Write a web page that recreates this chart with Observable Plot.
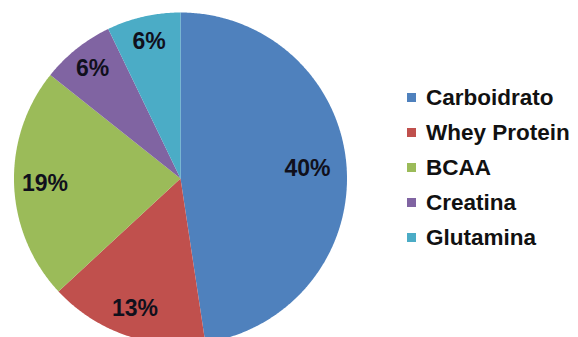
<!DOCTYPE html>
<html>
<head>
<meta charset="utf-8">
<script src="https://cdn.jsdelivr.net/npm/d3@7"></script>
<script src="https://cdn.jsdelivr.net/npm/@observablehq/plot@0.6"></script>
<style>
  html, body { margin: 0; padding: 0; background: #fff; }
  #wrap { position: relative; width: 578px; height: 337px; overflow: hidden; font-family: "Liberation Sans", Arial, sans-serif; }
  #legend { position: absolute; left: 407px; top: 80px; }
  .item { display: flex; align-items: center; height: 35px; font-weight: bold; font-size: 22.5px; color: #111; white-space: nowrap; }
  .sw { width: 9px; height: 9px; margin-right: 10px; flex: none; }
</style>
</head>
<body>
<div id="wrap"><div id="chart"></div><div id="legend"></div></div>
<script>
// Categories (clockwise from 12 o'clock)
const categories = ["Carboidrato", "Whey Protein", "BCAA", "Creatina", "Glutamina"];
// Printed values (percent)
const values = [40, 13, 19, 6, 6];
const labels = ["40%", "13%", "19%", "6%", "6%"];
const colors = ["#4F81BD", "#C0504D", "#9BBB59", "#8064A2", "#4BACC6"];

const total = d3.sum(values);
let acc = 0;
const slices = categories.map((c, i) => {
  const a0 = acc / total * 2 * Math.PI;
  acc += values[i];
  const a1 = acc / total * 2 * Math.PI;
  return {cat: c, a0, a1, share: values[i] / total, label: labels[i]};
});

// polygon points per slice (center + arc samples)
const pts = [];
for (const s of slices) {
  pts.push({cat: s.cat, x: 0, y: 0});
  const n = Math.max(2, Math.ceil((s.a1 - s.a0) / (Math.PI / 360)));
  for (let k = 0; k <= n; k++) {
    const a = s.a0 + (s.a1 - s.a0) * k / n;
    pts.push({cat: s.cat, x: Math.sin(a), y: Math.cos(a)});
  }
  pts.push({cat: s.cat, x: 0, y: 0});
}
// label radius: larger slices have labels a little closer to the centre
const lab = slices.map(s => {
  const m = (s.a0 + s.a1) / 2;
  const r = 0.86 - 0.2 * s.share;
  return {label: s.label, x: r * Math.sin(m), y: r * Math.cos(m)};
});

const chart = Plot.plot({
  width: 578,
  height: 337,
  style: {fontFamily: "'Liberation Sans', Arial, sans-serif", background: "#fff"},
  x: {domain: [-1, 1], range: [13.5, 346.5], axis: null},
  y: {domain: [-1, 1], range: [344, 12], axis: null},
  color: {domain: categories, range: colors},
  marks: [
    Plot.line(pts, {x: "x", y: "y", z: "cat", fill: "cat", stroke: "none", curve: "linear"}),
    Plot.text(lab, {x: "x", y: "y", text: "label", fontSize: 23, fontWeight: "bold", fill: "#10101c"})
  ]
});
document.getElementById("chart").appendChild(chart);

const leg = document.getElementById("legend");
categories.forEach((c, i) => {
  const it = document.createElement("div");
  it.className = "item";
  const sw = document.createElement("span");
  sw.className = "sw";
  sw.style.background = colors[i];
  const t = document.createElement("span");
  t.textContent = c;
  it.appendChild(sw); it.appendChild(t);
  leg.appendChild(it);
});
</script>
</body>
</html>
